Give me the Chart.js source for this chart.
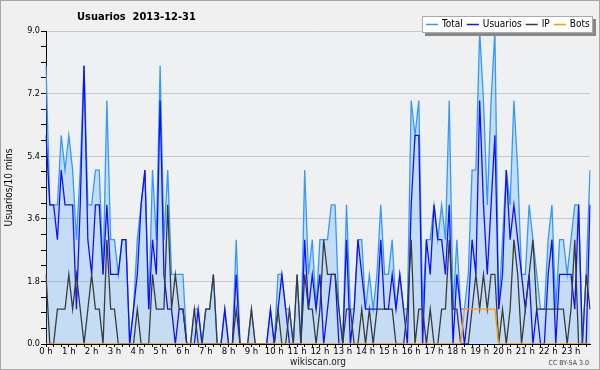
<!DOCTYPE html>
<html>
<head>
<meta charset="utf-8">
<script src="https://cdn.jsdelivr.net/npm/chart.js@4.4.1/dist/chart.umd.min.js"></script>
<style>
  html, body { margin: 0; padding: 0; background: #f0f0f0; }
  canvas { display: block; }
</style>
</head>
<body>
<canvas id="chart" width="600" height="370"></canvas>
<script>
// etiquetas de hora (una cada 6 intervalos de 10 min)
const hourLabels = ['0 h', '1 h', '2 h', '3 h', '4 h', '5 h', '6 h', '7 h', '8 h', '9 h', '10 h', '11 h',
  '12 h', '13 h', '14 h', '15 h', '16 h', '17 h', '18 h', '19 h', '20 h', '21 h', '22 h', '23 h'];

// marcas del eje Y (las mayores cada 1.8)
const yTicks = [0, 0.45, 0.9, 1.35, 1.8, 2.25, 2.7, 3.15, 3.6, 4.05, 4.5, 4.95, 5.4,
  5.85, 6.3, 6.75, 7.2, 7.65, 8.1, 8.55, 9.0];

// series, un valor cada 10 minutos (144)
const total = [
  8, 4, 4, 4, 6, 5, 6, 5, 3, 5,
  8, 4, 4, 5, 5, 2, 7, 3, 3, 2,
  3, 3, 0, 1, 3, 4, 5, 1, 5, 3,
  8, 3, 5, 2, 2, 2, 2, 0, 0, 1,
  1, 0, 1, 1, 2, 0, 0, 1, 0, 0,
  3, 0, 0, 0, 1, 0, 0, 0, 0, 1,
  0, 2, 2, 1, 1, 0, 2, 0, 5, 2,
  3, 1, 3, 3, 3, 4, 4, 1, 0, 4,
  1, 1, 3, 3, 1, 2, 1, 2, 4, 2,
  2, 3, 1, 2, 1, 1, 7, 6, 7, 1,
  3, 3, 4, 3, 4, 3, 7, 1, 3, 1,
  1, 2, 5, 5, 9, 7, 4, 7, 9, 1,
  3, 5, 4, 7, 5, 2, 2, 4, 3, 2,
  1, 1, 3, 4, 1, 3, 3, 2, 3, 4,
  4, 0, 2, 5
];
const usuarios = [
  6, 4, 4, 3, 5, 4, 4, 4, 1, 4,
  8, 3, 2, 4, 4, 2, 4, 2, 2, 2,
  3, 3, 0, 1, 2, 4, 5, 1, 3, 2,
  7, 2, 1, 1, 0, 1, 1, 0, 0, 0,
  1, 0, 0, 0, 0, 0, 0, 1, 0, 0,
  2, 0, 0, 0, 0, 0, 0, 0, 0, 1,
  0, 1, 2, 1, 0, 0, 0, 0, 3, 1,
  2, 1, 2, 0, 1, 2, 2, 0, 0, 3,
  0, 1, 3, 2, 1, 1, 1, 1, 3, 1,
  1, 2, 1, 2, 1, 0, 4, 6, 6, 0,
  3, 2, 4, 3, 3, 2, 4, 0, 2, 1,
  0, 1, 3, 2, 7, 4, 2, 4, 6, 1,
  2, 5, 3, 4, 3, 2, 1, 2, 0, 1,
  0, 0, 2, 3, 0, 2, 2, 2, 2, 1,
  4, 0, 0, 4
];
const ip = [
  2, 0, 0, 1, 1, 1, 2, 1, 2, 1,
  0, 1, 2, 1, 1, 0, 3, 1, 1, 0,
  0, 0, 0, 0, 1, 0, 0, 0, 2, 1,
  1, 1, 4, 1, 2, 1, 1, 0, 0, 1,
  0, 0, 1, 1, 2, 0, 0, 0, 0, 0,
  1, 0, 0, 0, 1, 0, 0, 0, 0, 0,
  0, 1, 0, 0, 1, 0, 2, 0, 2, 1,
  1, 0, 1, 3, 2, 2, 2, 1, 0, 1,
  1, 0, 0, 1, 0, 1, 0, 1, 1, 1,
  1, 1, 0, 0, 0, 1, 3, 0, 1, 1,
  0, 1, 0, 0, 1, 1, 3, 1, 1, 0,
  0, 0, 1, 2, 1, 2, 1, 2, 2, 0,
  1, 0, 1, 3, 2, 0, 1, 2, 3, 1,
  1, 1, 1, 1, 1, 1, 1, 0, 1, 3,
  0, 0, 2, 1
];
const bots = [
  0, 0, 0, 0, 0, 0, 0, 0, 0, 0,
  0, 0, 0, 0, 0, 0, 0, 0, 0, 0,
  0, 0, 0, 0, 0, 0, 0, 0, 0, 0,
  0, 0, 0, 0, 0, 0, 0, 0, 0, 0,
  0, 0, 0, 0, 0, 0, 0, 0, 0, 0,
  0, 0, 0, 0, 0, 0, 0, 0, 0, 0,
  0, 0, 0, 0, 0, 0, 0, 0, 0, 0,
  0, 0, 0, 0, 0, 0, 0, 0, 0, 0,
  0, 0, 0, 0, 0, 0, 0, 0, 0, 0,
  0, 0, 0, 0, 0, 0, 0, 0, 0, 0,
  0, 0, 0, 0, 0, 0, 0, 0, 0, 0,
  1, 1, 1, 1, 1, 1, 1, 1, 1, 0,
  0, 0, 0, 0, 0, 0, 0, 0, 0, 0,
  0, 0, 0, 0, 0, 0, 0, 0, 0, 0,
  0, 0, 0, 0
];

// categorias: 6 intervalos por hora
const slots = [];
hourLabels.forEach(h => { for (let m = 0; m < 60; m += 10) slots.push(h.replace(' h', '') + ':' + String(m).padStart(2, '0')); });

const FONT = '"DejaVu Sans Condensed", "DejaVu Sans", sans-serif';

const frame = {
  id: 'frame',
  beforeDraw(chart) {
    const { ctx, width, height, chartArea: a } = chart;
    ctx.save();
    ctx.fillStyle = '#f0f0f0';
    ctx.fillRect(0, 0, width, height);
    ctx.fillStyle = '#eef0f2';
    ctx.fillRect(a.left, a.top, a.right - a.left, a.bottom - a.top);
    ctx.strokeStyle = '#a8a8a8';
    ctx.lineWidth = 1;
    ctx.strokeRect(0.5, 0.5, width - 1, height - 1);
    ctx.restore();
  },
  afterDraw(chart) {
    const { ctx } = chart;
    ctx.save();
    // titulo
    ctx.fillStyle = '#000';
    ctx.textBaseline = 'middle';
    ctx.font = 'bold 11px ' + FONT;
    ctx.fillText('Usuarios  2013-12-31', 77, 17);
    // licencia
    ctx.font = '7px ' + FONT;
    ctx.fillStyle = '#444';
    ctx.textAlign = 'right';
    ctx.fillText('CC BY-SA 3.0', 589, 363);
    ctx.textAlign = 'left';
    // leyenda
    const bx = 422, by = 16, bw = 171, bh = 17;
    ctx.fillStyle = '#888';
    ctx.fillRect(bx + 3, by + 3, bw, bh);
    ctx.fillStyle = '#fff';
    ctx.fillRect(bx, by, bw, bh);
    ctx.strokeStyle = '#aaa';
    ctx.strokeRect(bx + 0.5, by + 0.5, bw - 1, bh - 1);
    ctx.font = '10px ' + FONT;
    let x = bx + 4;
    const y = by + bh / 2;
    chart.data.datasets.forEach(ds => {
      ctx.strokeStyle = ds.borderColor;
      ctx.lineWidth = 1.5;
      ctx.beginPath();
      ctx.moveTo(x, y);
      ctx.lineTo(x + 12, y);
      ctx.stroke();
      ctx.fillStyle = '#000';
      ctx.fillText(ds.label, x + 16, y);
      x += 16 + ctx.measureText(ds.label).width + 4;
    });
    ctx.restore();
  }
};

new Chart(document.getElementById('chart'), {
  type: 'line',
  data: {
    labels: slots,
    datasets: [
      { label: 'Total', data: total, borderColor: '#3399ff', backgroundColor: 'rgba(51,153,255,0.22)', fill: 'origin', order: 4 },
      { label: 'Usuarios', data: usuarios, borderColor: '#1010ff', fill: false, order: 3 },
      { label: 'IP', data: ip, borderColor: '#3a3a3a', fill: false, order: 2 },
      { label: 'Bots', data: bots, borderColor: '#ff9900', fill: false, order: 1 }
    ]
  },
  options: {
    responsive: false,
    animation: false,
    devicePixelRatio: 1,
    layout: { padding: { top: 31, right: 10, bottom: 0, left: 0 } },
    elements: {
      point: { radius: 0 },
      line: { borderWidth: 1.3, tension: 0 }
    },
    plugins: {
      legend: { display: false },
      tooltip: { enabled: false },
      filler: { drawTime: 'beforeDatasetsDraw' }
    },
    scales: {
      x: {
        type: 'category',
        offset: false,
        z: 1,
        afterFit: s => { s.height = 26; },
        border: { color: '#000', width: 1 },
        grid: {
          drawOnChartArea: false,
          tickLength: 3,
          tickColor: c => (c.index % 2 === 0 ? '#000' : 'rgba(0,0,0,0)')
        },
        ticks: {
          autoSkip: false,
          maxRotation: 0,
          minRotation: 0,
          padding: -1,
          color: '#000',
          font: { family: FONT, size: 9.5 },
          callback: (v, i) => (i % 6 === 0 ? hourLabels[i / 6] : '')
        },
        title: {
          display: true,
          text: 'wikiscan.org',
          color: '#222',
          font: { family: FONT, size: 10 },
          padding: { top: 0, bottom: 2 }
        }
      },
      y: {
        min: 0,
        max: 9,
        z: 1,
        afterFit: s => { s.width = 46; },
        afterBuildTicks: s => { s.ticks = yTicks.map(v => ({ value: v })); },
        border: { color: '#000', width: 1 },
        grid: {
          color: c => (c.index % 4 === 0 && c.index > 0 ? '#c8c8c8' : 'rgba(0,0,0,0)'),
          tickColor: '#000',
          tickLength: 5
        },
        ticks: {
          autoSkip: false,
          padding: 1,
          color: '#000',
          font: { family: FONT, size: 9 },
          callback: (v, i) => (i % 4 === 0 ? yTicks[i].toFixed(1) : '')
        },
        title: {
          display: true,
          text: 'Usuarios/10 mins',
          color: '#000',
          font: { family: FONT, size: 10 },
          padding: { top: 3, bottom: 0 }
        }
      }
    }
  },
  plugins: [frame]
});
</script>
</body>
</html>
